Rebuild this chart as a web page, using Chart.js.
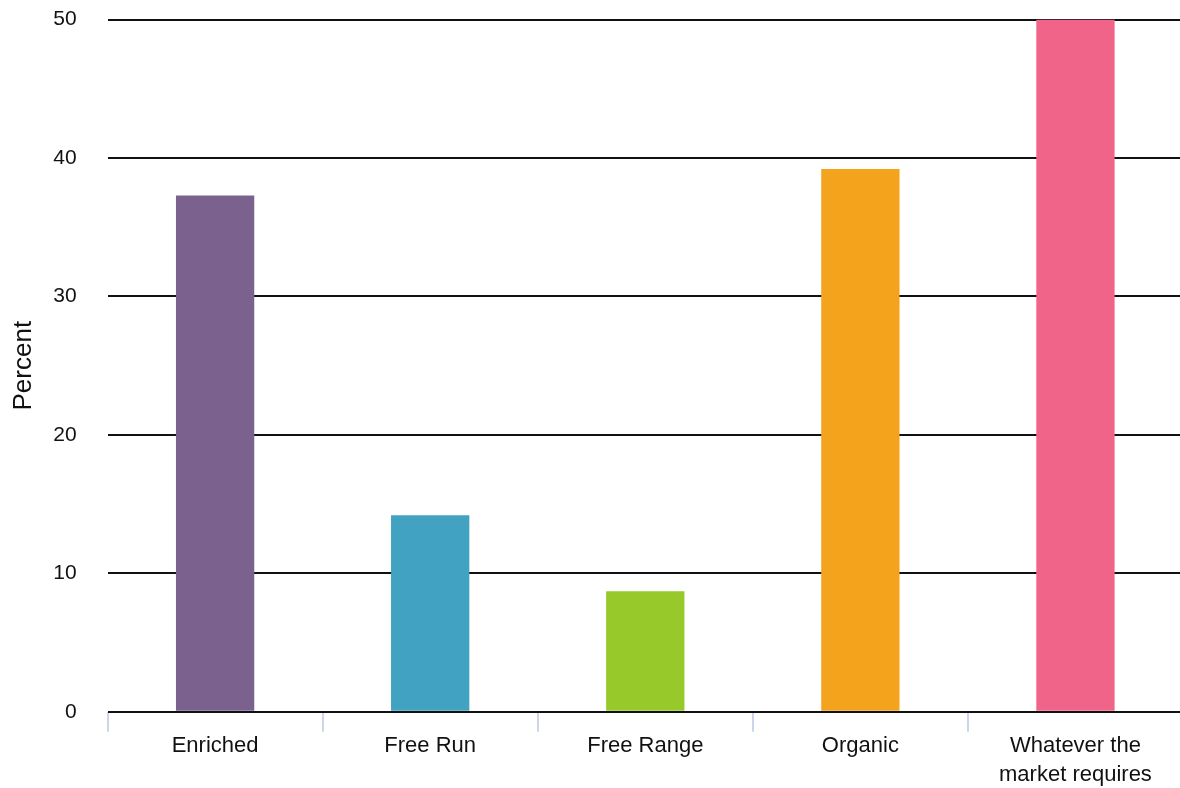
<!DOCTYPE html>
<html>
<head>
<meta charset="utf-8">
<script src="https://cdn.jsdelivr.net/npm/chart.js@4/dist/chart.umd.min.js"></script>
<style>
  html, body { margin: 0; padding: 0; background: #fff; overflow: hidden; }
  #wrap { width: 1183px; height: 812px; margin-top: -24px; position: relative; }
</style>
</head>
<body>
<div id="wrap"><canvas id="chart"></canvas></div>
<script>
// egg production types, share of respondents
const categories = ['Enriched', 'Free Run', 'Free Range', 'Organic', ['Whatever the', 'market requires']];
const percents = [37.3, 14.2, 8.7, 39.2, 50];
const barColors = ['#7b618d', '#41a2c1', '#97c92a', '#f4a41c', '#f06489'];
const yTicks = [0, 10, 20, 30, 40, 50];

const fontFamily = '"Liberation Sans", Arial, Helvetica, sans-serif';

new Chart(document.getElementById('chart'), {
    type: 'bar',
    data: {
        labels: categories,
        datasets: [{
            label: 'Percent',
            data: percents,
            backgroundColor: barColors,
            borderWidth: 0,
            barPercentage: 0.364,
            categoryPercentage: 1
        }]
    },
    options: {
        responsive: true,
        maintainAspectRatio: false,
        animation: false,
        layout: { padding: { top: 8, left: 8, right: 0, bottom: -1 } },
        plugins: {
            legend: { display: false },
            tooltip: { enabled: false }
        },
        scales: {
            x: {
                offset: true,
                border: { display: false },
                grid: {
                    offset: true,
                    drawOnChartArea: false,
                    tickLength: 20,
                    color: '#cdd6e8',
                    lineWidth: 2
                },
                ticks: {
                    color: '#111',
                    padding: 0,
                    maxRotation: 0,
                    font: { family: fontFamily, size: 22, lineHeight: 1.3 }
                }
            },
            y: {
                min: 0,
                max: 50,
                afterBuildTicks: axis => {
                    axis.ticks = yTicks.map(v => ({ value: v }));
                },
                border: { display: false },
                grid: {
                    drawTicks: false,
                    color: '#111',
                    lineWidth: 2
                },
                ticks: {
                    color: '#111',
                    padding: 31,
                    font: { family: fontFamily, size: 21 }
                },
                title: {
                    display: true,
                    text: 'Percent',
                    color: '#111',
                    padding: { top: 0, bottom: -17 },
                    font: { family: fontFamily, size: 26 }
                }
            }
        }
    }
});
</script>
</body>
</html>
